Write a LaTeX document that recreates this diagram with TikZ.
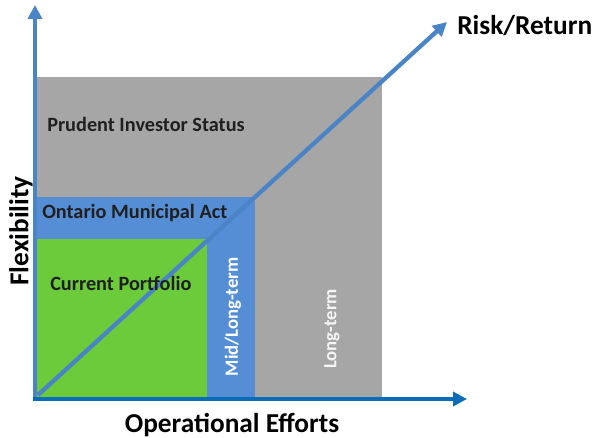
\documentclass[tikz,border=0pt]{standalone}
\usepackage{fontspec}
\setmainfont{Carlito}
\usetikzlibrary{arrows.meta}
\definecolor{grayfill}{HTML}{A6A6A6}
\definecolor{bluefill}{HTML}{558ED5}
\definecolor{greenfill}{HTML}{6BCB3B}
\definecolor{axisblue}{HTML}{0B6CB8}
\definecolor{lineblue}{HTML}{4A84C6}
\tikzset{
  axisarrow/.style={line width=3.2pt, -{Triangle[length=10.5pt,width=10.5pt]}},
  boxlabel/.style={anchor=west, inner sep=0pt, font=\fontsize{15.2}{18}\selectfont\bfseries, text=black!88},
  axislabel/.style={inner sep=0pt, font=\fontsize{20.5}{24}\selectfont\bfseries, text=black},
  vlabel/.style={inner sep=0pt, rotate=90, text=white, font=\fontsize{14}{17}\selectfont\bfseries}
}
\begin{document}
\begin{tikzpicture}[x=0.75pt,y=-0.75pt]
\useasboundingbox (0,0) rectangle (592,438);
\fill[grayfill] (37,77) rectangle (382,397);
\fill[bluefill] (37,197) rectangle (255,397);
\fill[greenfill] (37,239) rectangle (207,397);
\coordinate (yo) at (35,401);
\coordinate (ytip) at (35,5);
\coordinate (xo) at (33,399);
\coordinate (xtip) at (467,399);
\coordinate (d0) at (38,395);
\coordinate (dtip) at (447,22);
\draw[axisarrow, lineblue] (yo) -- (ytip);
\draw[axisarrow, lineblue] (d0) -- (dtip);
\draw[axisarrow, axisblue] (xo) -- (xtip);
\node[axislabel, anchor=west] (risk) at (457,26) {Risk/Return};
\node[axislabel] (ops) at (232,425) {Operational Efforts};
\node[axislabel, rotate=90] (flex) at (21,231) {Flexibility};
\node[boxlabel] (prudent) at (47,124) {Prudent Investor Status};
\node[boxlabel] (ontario) at (42,213) {Ontario Municipal Act};
\node[boxlabel] (current) at (50,283) {Current Portfolio};
\node[vlabel] (mid) at (233,317) {Mid/Long-term};
\node[vlabel, text=white!92!gray] (long) at (332,329) {Long-term};
\end{tikzpicture}
\end{document}
